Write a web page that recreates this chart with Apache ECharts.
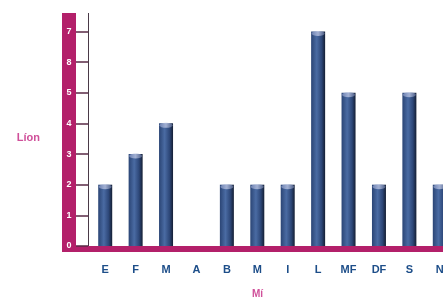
<!DOCTYPE html>
<html>
<head>
<meta charset="utf-8">
<script src="https://cdn.jsdelivr.net/npm/echarts@6/dist/echarts.min.js"></script>
<style>
  html, body { margin: 0; padding: 0; background: #fff; }
  #chart { width: 443px; height: 299px; }
</style>
</head>
<body>
<div id="chart"></div>
<script>
// catagóirí agus luachanna
const categories = ['E', 'F', 'M', 'A', 'B', 'M', 'I', 'L', 'MF', 'DF', 'S', 'N']
const values = [2, 3, 4, 0, 2, 2, 2, 7, 5, 2, 5, 2]
const yTickValues = [0, 1, 2, 3, 4, 5, 6, 7]
const yTickLabels = ['0', '1', '2', '3', '4', '5', '8', '7']

const pink = '#b3206a'
const font = 'Liberation Sans, Arial, sans-serif'

const chart = echarts.init(document.getElementById('chart'))

const option = {
  animation: false,
  textStyle: { fontFamily: font },
  grid: { left: 90, right: -12, top: 13, bottom: 53, outerBoundsMode: 'none', containLabel: false },
  // fill the corner where the two pink axes meet
  graphic: [{
    type: 'rect',
    left: 62,
    top: 246,
    shape: { width: 30, height: 6 },
    style: { fill: pink },
    silent: true
  }],
  xAxis: {
    type: 'category',
    data: categories,
    offset: 3,
    axisLine: { onZero: false, lineStyle: { color: pink, width: 6, cap: 'butt' } },
    axisTick: { show: false },
    axisLabel: {
      margin: 15,
      color: '#1d4e89',
      fontWeight: 'bold',
      fontSize: 11,
      fontFamily: font
    },
    name: 'Mí',
    nameLocation: 'middle',
    nameGap: 40,
    nameTextStyle: {
      color: '#d0509a',
      fontWeight: 'bold',
      fontSize: 10,
      padding: [0, 30, 0, 0]
    }
  },
  yAxis: [
    {
      // pink band with white labels
      type: 'value',
      min: 0,
      max: 7.6,
      position: 'left',
      offset: 21,
      splitLine: { show: false },
      axisLine: { show: true, lineStyle: { color: pink, width: 14, cap: 'butt' } },
      axisTick: { show: false },
      axisLabel: {
        customValues: yTickValues,
        formatter: v => yTickLabels[v] ?? '',
        align: 'center',
        margin: 0,
        color: '#fff',
        fontWeight: 'bold',
        fontSize: 9
      },
      name: 'Líon',
      nameLocation: 'middle',
      nameRotate: 0,
      nameGap: 29,
      nameTextStyle: {
        color: '#d0509a',
        fontWeight: 'bold',
        fontSize: 11,
        align: 'right',
        verticalAlign: 'top',
        padding: [3, 0, 0, 0]
      }
    },
    {
      // thin dark axis with tick marks
      type: 'value',
      min: 0,
      max: 7.6,
      position: 'left',
      offset: 2,
      splitLine: { show: false },
      axisLine: { show: true, lineStyle: { color: '#4a3a48', width: 1, cap: 'butt' } },
      axisTick: {
        show: true,
        customValues: yTickValues,
        length: 12,
        lineStyle: { color: '#5a2a45', width: 1.5 }
      },
      axisLabel: { show: false }
    }
  ],
  series: [
    {
      type: 'bar',
      data: values,
      barWidth: 14,
      itemStyle: {
        color: new echarts.graphic.LinearGradient(0, 0, 1, 0, [
          { offset: 0, color: '#2b4575' },
          { offset: 0.4, color: '#4a6ba3' },
          { offset: 0.75, color: '#2d4778' },
          { offset: 1, color: '#141e33' }
        ])
      }
    },
    {
      // light top cap of each bar
      type: 'scatter',
      data: values.map(v => (v > 0 ? v : null)),
      symbol: 'circle',
      symbolSize: [13, 5],
      symbolOffset: [0, 2],
      silent: true,
      z: 3,
      itemStyle: {
        color: new echarts.graphic.LinearGradient(0, 0, 1, 0, [
          { offset: 0, color: '#7d8fbf' },
          { offset: 0.5, color: '#b9c3e0' },
          { offset: 1, color: '#5a6a94' }
        ])
      }
    }
  ]
}

chart.setOption(option)
</script>
</body>
</html>
